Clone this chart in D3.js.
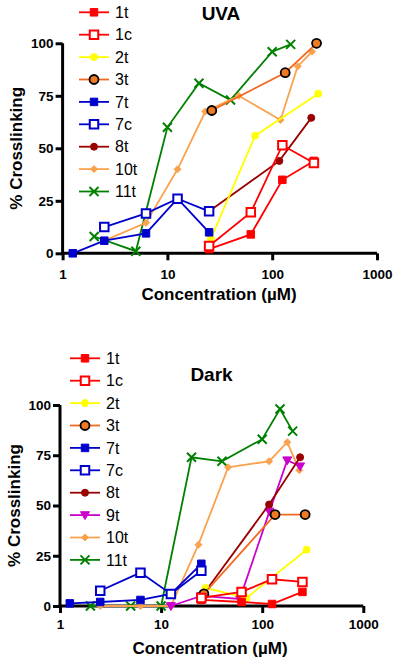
<!DOCTYPE html>
<html><head><meta charset="utf-8">
<script src="https://cdn.jsdelivr.net/npm/d3@7"></script>
<style>body{margin:0;background:#fff} svg{display:block}</style>
</head><body><svg id="c" width="400" height="663"></svg>
<script>
// ---- Data: [concentration (µM), % crosslinking] ----
const uva1t  = [[25,2],[62.5,9],[125,35],[250,44]];
const uva1c  = [[25,3.5],[62.5,19.5],[125,51.5],[250,43]];
const uva2t  = [[26,7],[68.75,56],[275,76]];
const uva3t  = [[26.5,68],[133,86],[265,100]];
const uva7t  = [[1.25,0],[2.5,6],[6.25,9.5],[12.5,26],[25,10]];
const uva7c  = [[2.5,12.5],[6.25,19],[12.5,26],[25,20]];
const uva8t  = [[25,20],[117,44],[236,64.5]];
const uva10t = [[2.5,6],[6.25,14.5],[12.5,40],[23,67.5],[48,75],[120,63.5],[175,89],[240,96]];
const uva11t = [[2,8],[5,1],[10,60],[20,81],[40,73],[100,96],[150,99.5]];

const dark1t  = [[25,3],[62.5,2],[125,1],[250,7]];
const dark1c  = [[25,4],[62.5,7],[125,13.3],[250,12]];
const dark2t  = [[27.5,9],[70,4],[275,28]];
const dark3t  = [[26.5,6],[134,45.5],[266,45.5]];
const dark7t  = [[1.25,1.3],[2.5,2],[6.25,3],[12.5,6],[25,21]];
const dark7c  = [[2.5,7.6],[6.25,16.6],[12.5,6],[25,17.5]];
const dark8t  = [[25,4.5],[117,50.5],[237,74]];
const dark9t  = [[12.5,0],[25,5],[60,3.5],[118,47],[177,72.5],[237,69.5]];
const dark10t = [[2.5,0],[6.25,0],[12.5,0],[23.4,30.5],[46,69],[117,72],[177,81.5],[233,67.5]];
const dark11t = [[2,0],[5,0],[10,0],[20,74],[40,72],[100,83],[150,98],[200,87]];

const uvaNames  = ["1t","1c","2t","3t","7t","7c","8t","10t","11t"];
const uvaData   = [uva1t,uva1c,uva2t,uva3t,uva7t,uva7c,uva8t,uva10t,uva11t];
const darkNames = ["1t","1c","2t","3t","7t","7c","8t","9t","10t","11t"];
const darkData  = [dark1t,dark1c,dark2t,dark3t,dark7t,dark7c,dark8t,dark9t,dark10t,dark11t];

const xTicks = [1,10,100,1000];
const yTicks = [0,25,50,75,100];
const xLabel = "Concentration (\u00B5M)";
const yLabel = "% Crosslinking";

// stacking order (bottom to top)
const drawOrder = ["11t","10t","9t","8t","2t","3t","1t","1c","7t","7c"];

// ---- Styles ----
const styles = {
  "1t":  {line:"#FF0000", shape:"square",  fill:"#FF0000", stroke:"#FF0000", sw:1, size:7.5},
  "1c":  {line:"#FF0000", shape:"square",  fill:"#FFFFFF", stroke:"#FF0000", sw:2, size:8.5},
  "2t":  {line:"#FFFF00", shape:"circle",  fill:"#FFFF00", stroke:"#FFFF00", sw:1, size:7},
  "3t":  {line:"#F26A21", shape:"circle",  fill:"#F07A22", stroke:"#000000", sw:1.8, size:9},
  "7t":  {line:"#0000CC", shape:"square",  fill:"#0000CC", stroke:"#0000CC", sw:1, size:7.5},
  "7c":  {line:"#0000CC", shape:"square",  fill:"#FFFFFF", stroke:"#0000CC", sw:2, size:8.5},
  "8t":  {line:"#990000", shape:"circle",  fill:"#990000", stroke:"#990000", sw:1, size:7},
  "9t":  {line:"#CC00CC", shape:"triDown", fill:"#CC00CC", stroke:"#CC00CC", sw:1, size:9},
  "10t": {line:"#F9A24F", shape:"diamond", fill:"#F9A24F", stroke:"#F9A24F", sw:1, size:7},
  "11t": {line:"#008000", shape:"x",       fill:"none",    stroke:"#008000", sw:2, size:9}
};

function markerPath(shape, s){
  const h = s/2;
  switch(shape){
    case "square": return `M${-h},${-h}h${s}v${s}h${-s}Z`;
    case "circle": return `M${h},0A${h},${h} 0 1,1 ${-h},0A${h},${h} 0 1,1 ${h},0Z`;
    case "triDown": return `M${-h},${-h*0.75}L${h},${-h*0.75}L0,${h}Z`;
    case "diamond": return `M0,${-h}L${h},0L0,${h}L${-h},0Z`;
    case "x": return `M${-h},${-h}L${h},${h}M${-h},${h}L${h},${-h}`;
  }
}

const svg = d3.select("#c");
const FONT = "'Liberation Sans', Arial, Helvetica, sans-serif";

function drawPanel(cfg){
  const g = svg.append("g");
  const x = d3.scaleLog().domain([1,1000]).range(cfg.xRange);
  const y = d3.scaleLinear().domain([0,100]).range(cfg.yRange);

  const ax = g.append("g").attr("transform",`translate(0,${cfg.yRange[0]})`)
    .call(d3.axisBottom(x).tickValues(xTicks).tickFormat(d3.format("d")).tickSizeOuter(0).tickSize(7).tickPadding(cfg.xPad));
  const ay = g.append("g").attr("transform",`translate(${cfg.xRange[0]},0)`)
    .call(d3.axisLeft(y).tickValues(yTicks).tickSizeOuter(0).tickSize(7).tickPadding(2));
  [ax,ay].forEach(a=>{
    a.select(".domain").attr("stroke","#000").attr("stroke-width",3);
    a.selectAll(".tick line").attr("stroke","#000").attr("stroke-width",3);
    a.selectAll(".tick text").attr("fill","#000").style("font-family",FONT)
      .style("font-weight","bold").style("font-size","13.5px");
  });
  ax.select(".domain").attr("d",`M${cfg.xRange[0]-1.5},0H${cfg.xRange[1]}`);
  ay.select(".domain").attr("d",`M0,${cfg.yRange[1]}V${cfg.yRange[0]+1.5}`);

  g.append("text").attr("x",cfg.xLabelX).attr("y",cfg.xLabelY).attr("text-anchor","middle")
    .style("font-family",FONT).style("font-weight","bold").style("font-size","17px").text(xLabel);
  g.append("text").attr("transform",`translate(${cfg.yLabelX},${(cfg.yRange[0]+cfg.yRange[1])/2}) rotate(-90)`)
    .attr("text-anchor","middle").style("font-family",FONT).style("font-weight","bold").style("font-size","17px").text(yLabel);
  g.append("text").attr("x",cfg.titleX).attr("y",cfg.titleY).attr("text-anchor","middle")
    .style("font-family",FONT).style("font-weight","bold").style("font-size","19px").text(cfg.title);

  const line = d3.line().x(d=>x(d[0])).y(d=>y(d[1]));
  drawOrder.forEach(name=>{
    const i = cfg.names.indexOf(name);
    if(i<0) return;
    const st = styles[name];
    const data = cfg.data[i];
    g.append("path").attr("d",line(data)).attr("fill","none").attr("stroke",st.line).attr("stroke-width",1.8);
    g.selectAll(null).data(data).enter().append("path")
      .attr("transform",d=>`translate(${x(d[0])},${y(d[1])})`)
      .attr("d",markerPath(st.shape,st.size))
      .attr("fill",st.fill).attr("stroke",st.stroke).attr("stroke-width",st.sw);
  });

  cfg.names.forEach((name,i)=>{
    const st = styles[name];
    const ly = cfg.legendY0 + i*cfg.legendDy;
    const lg = g.append("g");
    lg.append("line").attr("x1",cfg.legendX).attr("x2",cfg.legendX+30).attr("y1",ly).attr("y2",ly)
      .attr("stroke",st.line).attr("stroke-width",1.8);
    lg.append("path").attr("transform",`translate(${cfg.legendX+15},${ly})`).attr("d",markerPath(st.shape,st.size))
      .attr("fill",st.fill).attr("stroke",st.stroke).attr("stroke-width",st.sw);
    lg.append("text").attr("x",cfg.legendX+36).attr("y",ly).attr("dy","0.36em")
      .style("font-family",FONT).style("font-size","16px").text(name);
  });
}

drawPanel({title:"UVA", titleX:221, titleY:20, xRange:[62.6,377], yRange:[253.3,43.3],
  xPad:9, xLabelX:219, xLabelY:300, yLabelX:22,
  legendX:79, legendY0:12.3, legendDy:22.4, names:uvaNames, data:uvaData});
drawPanel({title:"Dark", titleX:211.5, titleY:381, xRange:[60,363.3], yRange:[606,405],
  xPad:6, xLabelX:210, xLabelY:654, yLabelX:20,
  legendX:70, legendY0:358.3, legendDy:22.4, names:darkNames, data:darkData});
</script></body></html>
